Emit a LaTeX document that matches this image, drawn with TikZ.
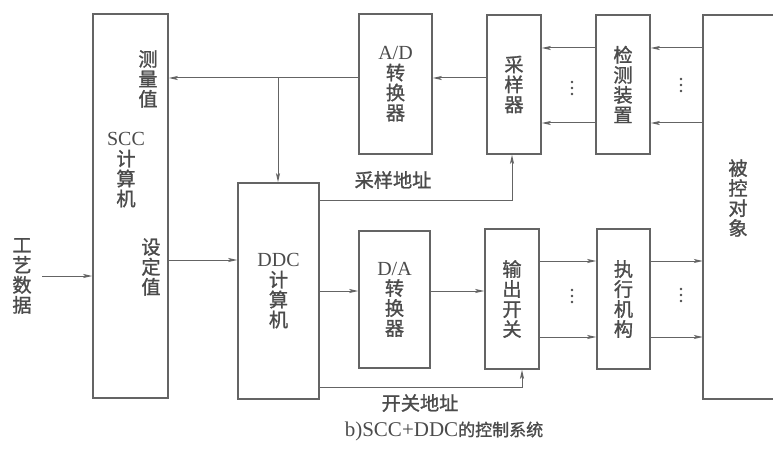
\documentclass[tikz,border=0pt]{standalone}
\usepackage{fontspec}
\setmainfont{Liberation Serif}
\newfontfamily\cjk[FakeBold=1.3]{Noto Sans CJK SC}
\usetikzlibrary{arrows.meta,calc}
\definecolor{lc}{RGB}{100,100,100}
\definecolor{tc}{RGB}{75,75,75}
\newcommand{\lat}[1]{{\rmfamily\fontsize{20}{20}\selectfont #1}}
\tikzset{
 box/.style={draw=lc, line width=1.5pt, align=center, inner sep=0pt, font=\fontsize{19.2}{20}\selectfont\cjk, text=tc},
 lbl/.style={align=center, inner sep=0pt, font=\fontsize{19.2}{20}\selectfont\cjk, text=tc},
 arr/.style={draw=lc, line width=1pt, -{Stealth[length=9pt,width=4pt,inset=2pt]}},
 ln/.style={draw=lc, line width=1pt},
 dot/.style={fill=tc, circle, inner sep=0pt, minimum size=2.8pt}
}
\begin{document}
\begin{tikzpicture}[x=1pt,y=-1pt]
\useasboundingbox (0,0) rectangle (773,449);
% boxes
\node[box, minimum width=75pt, minimum height=384pt] (scc) at (130.5,206) {};
\node[box, minimum width=81pt, minimum height=216pt] (ddc) at (278.5,291) {\lat{DDC}\\计\\算\\机};
\node[box, minimum width=73pt, minimum height=140pt] (ad) at (395.5,84) {\lat{A/D}\\转\\换\\器};
\node[box, minimum width=54pt, minimum height=139pt] (samp) at (514,84.5) {采\\样\\器};
\node[box, minimum width=54pt, minimum height=139pt] (det) at (623,84.5) {检\\测\\装\\置};
\node[box, minimum width=71pt, minimum height=137pt] (da) at (394.5,299.5) {\lat{D/A}\\转\\换\\器};
\node[box, minimum width=54pt, minimum height=140pt] (sw) at (512,299) {输\\出\\开\\关};
\node[box, minimum width=53pt, minimum height=140pt] (act) at (623.5,299) {执\\行\\机\\构};
\node[inner sep=0pt, minimum width=70pt, minimum height=384pt] (plant) at (738,207) {};
\draw[lc, line width=1.5pt] (plant.north east) -- (plant.north west) -- (plant.south west) -- (plant.south east);
% labels
\node[lbl] (plantlbl) at (738,198) {被\\控\\对\\象};
\node[lbl] (meas) at (148,79) {测\\量\\值};
\node[lbl] (scclbl) at (126,170) {\lat{SCC}\\计\\算\\机};
\node[lbl] (setp) at (151,267) {设\\定\\值};
\node[lbl] (proc) at (22,276) {工\\艺\\数\\据};
\node[lbl] (saddr) at (393,180) {采样地址};
\node[lbl] (waddr) at (420,403) {开关地址};
\node[lbl] (cap) at (444,431) {\lat{\fontsize{21}{21}\selectfont b)SCC+DDC}{\fontsize{17}{17}\selectfont 的控制系统}};
% y-levels
\coordinate (y1) at (0,78);
\coordinate (y2) at (0,48);
\coordinate (y3) at (0,123);
\coordinate (y4) at (0,260);
\coordinate (y5) at (0,276);
\coordinate (y6) at (0,291);
\coordinate (y7) at (0,261);
\coordinate (y8) at (0,337);
\coordinate (y9) at (0,200);
\coordinate (y10) at (0,387);
\coordinate (br) at (278,78);
\coordinate (pstart) at (42,276);
% connectors
\draw[arr] (ad.west |- y1) -- (scc.east |- y1);
\draw[arr] (br) -- (br |- ddc.north);
\draw[arr] (samp.west |- y1) -- (ad.east |- y1);
\draw[arr] (det.west |- y2) -- (samp.east |- y2);
\draw[arr] (det.west |- y3) -- (samp.east |- y3);
\draw[arr] (plant.west |- y2) -- (det.east |- y2);
\draw[arr] (plant.west |- y3) -- (det.east |- y3);
\draw[arr] (scc.east |- y4) -- (ddc.west |- y4);
\draw[arr] (pstart) -- (scc.west |- y5);
\draw[arr] (ddc.east |- y6) -- (da.west |- y6);
\draw[arr] (da.east |- y6) -- (sw.west |- y6);
\draw[arr] (sw.east |- y7) -- (act.west |- y7);
\draw[arr] (sw.east |- y8) -- (act.west |- y8);
\draw[arr] (act.east |- y7) -- (plant.west |- y7);
\draw[arr] (act.east |- y8) -- (plant.west |- y8);
\draw[arr] (ddc.east |- y9) -| ([xshift=-2pt]samp.south);
\draw[arr] (ddc.east |- y10) -| ([xshift=10pt]sw.south);
% dots
\foreach \x/\y in {572/88, 681/85, 572/296, 681/295}{
  \foreach \d in {-6,0,6}{ \node[dot] at (\x,\y+\d) {}; }
}
\end{tikzpicture}
\end{document}
